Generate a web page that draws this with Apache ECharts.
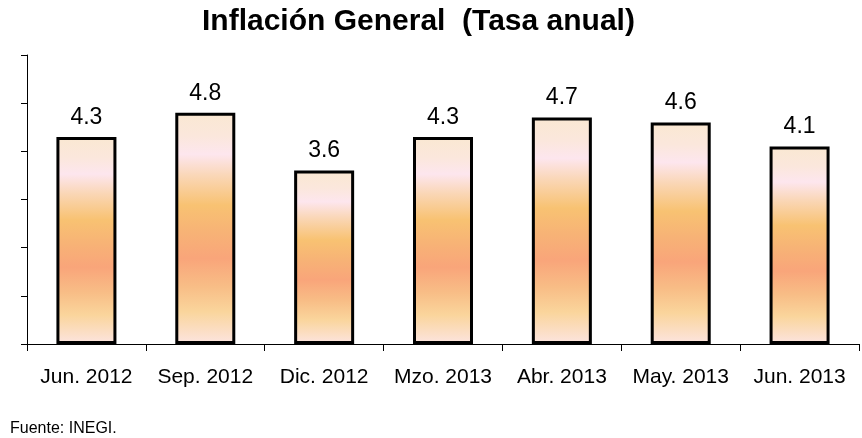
<!DOCTYPE html>
<html>
<head>
<meta charset="utf-8">
<script src="https://cdn.jsdelivr.net/npm/echarts@6/dist/echarts.min.js"></script>
<style>
html,body{margin:0;padding:0;background:#fff;}
#c{width:862px;height:438px;}
</style>
</head>
<body>
<div id="c"></div>
<script>
const categories = ['Jun. 2012','Sep. 2012','Dic. 2012','Mzo. 2013','Abr. 2013','May. 2013','Jun. 2013'];
const values = [4.3, 4.8, 3.6, 4.3, 4.7, 4.6, 4.1];
const titleText = 'Inflación General  (Tasa anual)';
const sourceText = 'Fuente: INEGI.';

const FONT = '"Liberation Sans", Arial, sans-serif';
const chart = echarts.init(document.getElementById('c'), null, {renderer:'canvas'});
const grad = new echarts.graphic.LinearGradient(0,0,0,1,[
  {offset:0, color:'#FAE8D2'},
  {offset:0.1, color:'#FBE7DC'},
  {offset:0.18, color:'#FDE6EE'},
  {offset:0.27, color:'#FAD7B8'},
  {offset:0.4, color:'#F8C272'},
  {offset:0.52, color:'#F7B276'},
  {offset:0.63, color:'#F9A57A'},
  {offset:0.75, color:'#F8BD86'},
  {offset:0.86, color:'#FAD59C'},
  {offset:1, color:'#FCE4E0'}
]);
chart.setOption({
  animation:false,
  backgroundColor:'#ffffff',
  title:[
    {text:titleText, left:197, top:2, textStyle:{fontFamily:FONT, fontWeight:'bold', fontSize:30, color:'#000'}},
    {text:sourceText, left:5, top:416, textStyle:{fontFamily:FONT, fontWeight:'normal', fontSize:16, color:'#000'}}
  ],
  grid:{left:27, right:3, top:55, bottom:94, containLabel:false},
  xAxis:{
    type:'category', data:categories, boundaryGap:true,
    axisLine:{lineStyle:{color:'#000', width:1}},
    axisTick:{show:true, length:7, interval:0, lineStyle:{color:'#000'}},
    axisLabel:{interval:0, margin:23, fontFamily:FONT, fontSize:21, color:'#000'}
  },
  yAxis:{
    type:'value', min:0, max:6, interval:1,
    axisLine:{show:true, lineStyle:{color:'#000', width:1}},
    axisTick:{show:true, length:6, lineStyle:{color:'#000'}},
    axisLabel:{show:false},
    splitLine:{show:false}
  },
  series:[{
    type:'bar', data:values, barWidth:60,
    itemStyle:{color:grad, borderColor:'#000', borderWidth:3},
    label:{show:true, position:'top', distance:8, fontFamily:FONT, fontSize:23, color:'#000'}
  }]
});
</script>
</body>
</html>
